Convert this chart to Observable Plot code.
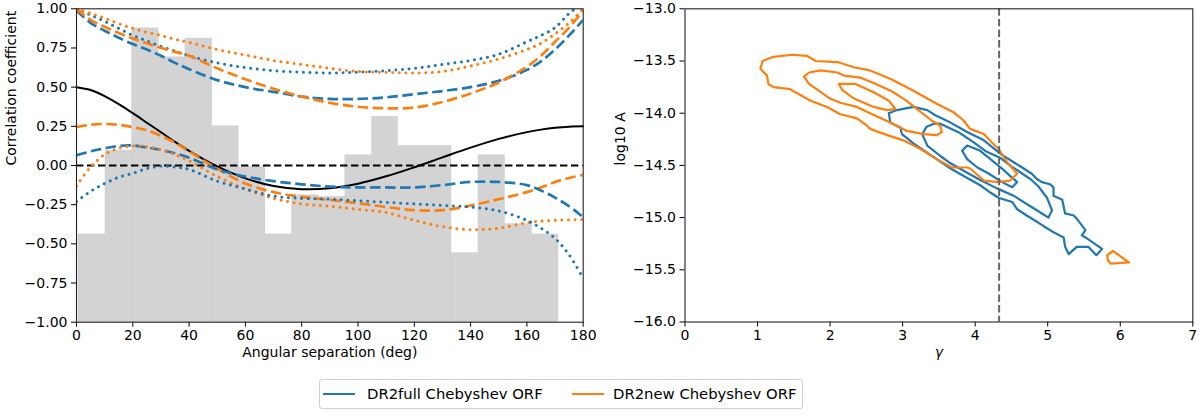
<!DOCTYPE html>
<html>
<head>
<meta charset="utf-8">
<script src="https://cdn.jsdelivr.net/npm/d3@7"></script>
<script src="https://cdn.jsdelivr.net/npm/@observablehq/plot@0.6"></script>
<style>
  body { margin: 0; background: white; font-family: "DejaVu Sans", sans-serif; }
  #fig { position: relative; width: 1200px; height: 418px; }
  #left, #right { position: absolute; top: 0; }
  #left { left: 0; }
  #right { left: 600px; }
  #legend {
    position: absolute; left: 319px; top: 379px; width: 484px; height: 30px;
    border: 1px solid #d0d0d0; border-radius: 3px; box-sizing: border-box;
    font-size: 14.8px; color: black;
  }
  #legend .sw { position: absolute; top: 13px; width: 32px; height: 0; border-top: 2.7px solid; }
  #legend .lb { position: absolute; top: 5px; white-space: nowrap; }
</style>
</head>
<body>
<div id="fig">
  <div id="left"></div>
  <div id="right"></div>
  <div id="legend">
    <div class="sw" style="left:3px;border-color:#1f77b4"></div>
    <div class="lb" style="left:47px">DR2full Chebyshev ORF</div>
    <div class="sw" style="left:252px;border-color:#ff7f0e"></div>
    <div class="lb" style="left:293px">DR2new Chebyshev ORF</div>
  </div>
</div>
<script>
/* ---- left panel: correlation vs angular separation ---- */
const angles = [0, 5, 10, 15, 20, 25, 30, 35, 40, 50, 60, 70, 80, 90, 100, 110, 120, 130, 140, 150, 160, 165, 170, 175, 180]

// Hellings-Downs curve
const hdCurve = [0.5, 0.482, 0.443, 0.392, 0.334, 0.273, 0.212, 0.151, 0.094, -0.006, -0.082, -0.131, -0.151, -0.145, -0.116, -0.069, -0.011, 0.052, 0.114, 0.170, 0.213, 0.229, 0.241, 0.248, 0.25]

// DR2full (blue)
const fullDashHi = [0.99, 0.91, 0.86, 0.815, 0.775, 0.74, 0.70, 0.655, 0.615, 0.545, 0.50, 0.47, 0.44, 0.425, 0.425, 0.435, 0.455, 0.475, 0.50, 0.54, 0.61, 0.665, 0.74, 0.83, 0.93]
const fullDashLo = [0.065, 0.09, 0.11, 0.125, 0.128, 0.115, 0.10, 0.078, 0.05, -0.025, -0.07, -0.10, -0.12, -0.135, -0.14, -0.14, -0.14, -0.125, -0.105, -0.105, -0.125, -0.16, -0.205, -0.26, -0.33]
const fullDotHi = [1.0, 0.96, 0.92, 0.875, 0.83, 0.795, 0.76, 0.73, 0.70, 0.655, 0.625, 0.605, 0.595, 0.59, 0.595, 0.605, 0.62, 0.645, 0.67, 0.71, 0.79, 0.83, 0.88, 0.97, 1.04]
const fullDotLo = [-0.23, -0.165, -0.115, -0.075, -0.05, -0.02, -0.005, -0.01, -0.025, -0.10, -0.15, -0.195, -0.21, -0.215, -0.225, -0.235, -0.245, -0.255, -0.265, -0.29, -0.35, -0.40, -0.465, -0.57, -0.72]

// DR2new (orange)
const newDashHi = [1.0, 0.93, 0.885, 0.845, 0.81, 0.78, 0.75, 0.725, 0.70, 0.62, 0.55, 0.49, 0.44, 0.40, 0.375, 0.365, 0.37, 0.405, 0.46, 0.53, 0.63, 0.70, 0.79, 0.88, 0.99]
const newDashLo = [0.245, 0.26, 0.265, 0.26, 0.245, 0.225, 0.19, 0.145, 0.09, -0.02, -0.115, -0.17, -0.20, -0.22, -0.24, -0.265, -0.285, -0.285, -0.255, -0.215, -0.17, -0.14, -0.105, -0.08, -0.06]
const newDotHi = [1.0, 0.97, 0.94, 0.905, 0.875, 0.85, 0.83, 0.805, 0.785, 0.74, 0.705, 0.67, 0.645, 0.62, 0.60, 0.595, 0.59, 0.60, 0.635, 0.68, 0.74, 0.78, 0.84, 0.91, 1.0]
const newDotLo = [-0.13, -0.01, 0.07, 0.11, 0.125, 0.12, 0.10, 0.07, 0.03, -0.07, -0.15, -0.21, -0.245, -0.26, -0.28, -0.30, -0.35, -0.39, -0.41, -0.40, -0.365, -0.355, -0.35, -0.347, -0.345]

// histogram of pair correlations
const binEdges = [0.7, 10.3, 19.8, 29.2, 38.7, 48.2, 57.6, 67.1, 76.6, 86.0, 95.5, 105.0, 114.2, 123.7, 133.2, 142.8, 152.2, 161.8, 171.2]
const binHeights = [-0.44, 0.095, 0.875, 0.69, 0.81, 0.25, -0.01, -0.44, -0.19, -0.2, 0.065, 0.31, 0.125, 0.125, -0.56, 0.065, -0.375, -0.44]

const xTicksLeft = [0, 20, 40, 60, 80, 100, 120, 140, 160, 180]
const yTicksLeft = [-1, -0.75, -0.5, -0.25, 0, 0.25, 0.5, 0.75, 1]

/* ---- right panel: gamma vs log10 A contours ---- */
const newOuter = [[1.04,-13.575],[1.07,-13.50],[1.22,-13.46],[1.48,-13.44],[1.68,-13.45],[1.80,-13.50],[2.10,-13.51],[2.33,-13.56],[2.55,-13.59],[2.83,-13.67],[3.11,-13.77],[3.47,-13.91],[3.70,-13.99],[3.84,-14.07],[3.93,-14.15],[4.12,-14.20],[4.23,-14.28],[4.32,-14.34],[4.44,-14.47],[4.58,-14.58],[4.48,-14.645],[4.32,-14.66],[4.12,-14.645],[3.93,-14.53],[3.89,-14.52],[3.68,-14.52],[3.47,-14.44],[3.24,-14.34],[3.01,-14.26],[2.79,-14.21],[2.55,-14.15],[2.51,-14.12],[2.37,-14.05],[2.14,-14.01],[1.96,-13.94],[1.73,-13.88],[1.45,-13.77],[1.22,-13.75],[1.15,-13.72],[1.13,-13.64],[1.04,-13.575]]
const newMiddle = [[1.64,-13.65],[1.71,-13.61],[1.87,-13.59],[2.10,-13.61],[2.19,-13.64],[2.42,-13.66],[2.60,-13.71],[2.85,-13.79],[3.05,-13.88],[3.20,-13.96],[3.40,-14.07],[3.52,-14.12],[3.54,-14.18],[3.47,-14.21],[3.29,-14.20],[3.06,-14.17],[2.83,-14.09],[2.58,-14.01],[2.37,-13.94],[2.14,-13.90],[2.00,-13.86],[1.71,-13.72],[1.64,-13.65]]
const newInner = [[2.12,-13.72],[2.35,-13.72],[2.60,-13.80],[2.81,-13.88],[2.90,-13.96],[2.79,-13.97],[2.60,-13.94],[2.33,-13.86],[2.17,-13.78],[2.12,-13.72]]
const newIsland = [[5.82,-15.36],[5.90,-15.32],[5.98,-15.36],[6.12,-15.43],[5.87,-15.44],[5.83,-15.41],[5.82,-15.36]]

const fullOuter = [[2.81,-14.00],[2.92,-13.97],[3.15,-13.94],[3.34,-13.97],[3.45,-14.02],[3.66,-14.09],[3.89,-14.18],[4.12,-14.26],[4.35,-14.39],[4.53,-14.47],[4.67,-14.53],[4.78,-14.58],[4.85,-14.63],[4.92,-14.66],[5.03,-14.68],[5.08,-14.71],[5.08,-14.79],[5.20,-14.83],[5.24,-14.96],[5.36,-14.98],[5.40,-15.01],[5.52,-15.12],[5.47,-15.17],[5.52,-15.19],[5.75,-15.30],[5.67,-15.36],[5.56,-15.28],[5.40,-15.28],[5.29,-15.35],[5.24,-15.28],[5.22,-15.19],[5.08,-15.14],[4.94,-15.08],[4.83,-15.03],[4.71,-14.98],[4.58,-14.92],[4.51,-14.85],[4.32,-14.81],[4.21,-14.76],[4.07,-14.69],[3.89,-14.62],[3.66,-14.53],[3.47,-14.44],[3.15,-14.29],[2.99,-14.20],[2.97,-14.14],[2.83,-14.09],[2.81,-14.00]]
const fullMiddle = [[3.27,-14.20],[3.33,-14.13],[3.43,-14.10],[3.52,-14.10],[3.79,-14.19],[3.98,-14.28],[4.16,-14.37],[4.35,-14.43],[4.48,-14.50],[4.76,-14.63],[4.87,-14.70],[4.99,-14.81],[5.06,-14.93],[5.01,-15.00],[4.85,-14.93],[4.71,-14.87],[4.53,-14.79],[4.30,-14.72],[4.07,-14.64],[3.89,-14.57],[3.66,-14.48],[3.52,-14.41],[3.34,-14.31],[3.27,-14.20]]
const fullInner = [[3.82,-14.36],[3.89,-14.31],[4.07,-14.36],[4.21,-14.44],[4.37,-14.53],[4.48,-14.60],[4.58,-14.66],[4.51,-14.71],[4.37,-14.66],[4.19,-14.58],[4.03,-14.52],[3.89,-14.44],[3.82,-14.36]]

const gammaRef = 4.33
const xTicksRight = [0, 1, 2, 3, 4, 5, 6, 7]
const yTicksRight = [-16, -15.5, -15, -14.5, -14, -13.5, -13]

const blue = '#1f77b4'
const orange = '#ff7f0e'
const font = 'DejaVu Sans'
// line looks: dashed bands and dotted bands
const dashStyle = {strokeWidth: 2.7, strokeDasharray: '10.5,4.5', strokeLinecap: 'butt'}
const dotStyle = {strokeWidth: 3, strokeDasharray: '0.01,6.6', strokeLinecap: 'round'}

function curveRows(vals) {
  return angles.map((a, i) => ({a, v: vals[i]}))
}

function contourRows(list) {
  let rows = []
  list.forEach((c, k) => c.forEach(p => rows.push({g: p[0], la: p[1], id: k})))
  return rows
}

const bands = [
  {vals: fullDotHi, color: blue, look: dotStyle},
  {vals: newDotHi, color: orange, look: dotStyle},
  {vals: fullDashHi, color: blue, look: dashStyle},
  {vals: newDashHi, color: orange, look: dashStyle},
  {vals: newDashLo, color: orange, look: dashStyle},
  {vals: fullDashLo, color: blue, look: dashStyle},
  {vals: newDotLo, color: orange, look: dotStyle},
  {vals: fullDotLo, color: blue, look: dotStyle},
]

const bars = binHeights.map((h, i) => ({x1: binEdges[i], x2: binEdges[i + 1], h}))

const axisStyle = {fontSize: 14, tickSize: 5, label: null}

const leftChart = Plot.plot({
  width: 600,
  height: 370,
  marginLeft: 76,
  marginRight: 17.3,
  marginTop: 8.3,
  marginBottom: 48.3,
  style: {fontFamily: font, fontSize: '14px', color: 'black', background: 'white', overflow: 'visible'},
  x: {domain: [0, 180], label: null},
  y: {domain: [-1, 1], label: null},
  marks: [
    Plot.rect(bars, {x1: 'x1', x2: 'x2', y1: -1, y2: 'h', fill: '#d3d3d3', stroke: '#cdcdcd', strokeWidth: 0.5, inset: 0}),
    Plot.line(curveRows(hdCurve), {x: 'a', y: 'v', stroke: 'black', strokeWidth: 2, curve: 'catmull-rom'}),
    Plot.ruleY([0], {stroke: 'black', strokeWidth: 2, strokeDasharray: '7.4,3.6'}),
    ...bands.map(b => Plot.line(curveRows(b.vals), {
      x: 'a', y: 'v', stroke: b.color, ...b.look, curve: 'catmull-rom', clip: true
    })),
    Plot.axisX({...axisStyle, ticks: xTicksLeft, tickFormat: d3.format('d'), tickPadding: 3}),
    Plot.axisY({...axisStyle, ticks: yTicksLeft, tickFormat: d3.format('.2f'), tickPadding: 4}),
    Plot.frame({stroke: '#222', strokeWidth: 1.1}),
    Plot.text(['Angular separation (deg)'], {frameAnchor: 'bottom', dy: 35, fontSize: 14, fill: 'black'}),
    Plot.text(['Correlation coefficient'], {frameAnchor: 'left', dx: -65, rotate: -90, fontSize: 14, fill: 'black'}),
  ]
})

const rightChart = Plot.plot({
  width: 600,
  height: 370,
  marginLeft: 84.5,
  marginRight: 7.7,
  marginTop: 8.3,
  marginBottom: 48.5,
  style: {fontFamily: font, fontSize: '14px', color: 'black', background: 'white', overflow: 'visible'},
  x: {domain: [0, 7], label: null},
  y: {domain: [-16, -13], label: null},
  marks: [
    Plot.line(contourRows([fullOuter, fullMiddle, fullInner]), {x: 'g', y: 'la', z: 'id', stroke: blue, strokeWidth: 2.2}),
    Plot.line(contourRows([newOuter, newMiddle, newInner, newIsland]), {x: 'g', y: 'la', z: 'id', stroke: orange, strokeWidth: 2.2}),
    Plot.ruleX([gammaRef], {stroke: '#666', strokeWidth: 2, strokeDasharray: '7.4,3.2'}),
    Plot.axisX({...axisStyle, ticks: xTicksRight, tickFormat: d3.format('d'), tickPadding: 3}),
    Plot.axisY({...axisStyle, ticks: yTicksRight, tickFormat: d3.format('.1f'), tickPadding: 4}),
    Plot.frame({stroke: '#222', strokeWidth: 1.1}),
    Plot.text(['γ'], {frameAnchor: 'bottom', dy: 35, fontSize: 14, fontStyle: 'italic', fill: 'black'}),
    Plot.text(['log10 A'], {frameAnchor: 'left', dx: -64.5, rotate: -90, fontSize: 14, fill: 'black'}),
  ]
})

d3.select('#left').append(() => leftChart)
d3.select('#right').append(() => rightChart)
</script>
</body>
</html>
